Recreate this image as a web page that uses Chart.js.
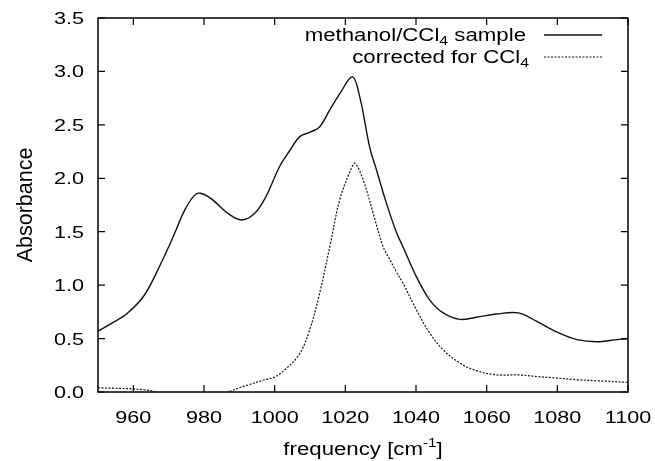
<!DOCTYPE html>
<html>
<head>
<meta charset="utf-8">
<script src="https://cdn.jsdelivr.net/npm/chart.js@4"></script>
<style>
html, body { margin: 0; padding: 0; background: #fff; }
canvas { display: block; }
</style>
</head>
<body>
<canvas id="chart" width="655" height="461"></canvas>
<script>
// frequency (cm-1) / absorbance
var sampleFreq = [950, 953.7, 958.4, 963.2, 967.9, 971.7, 974.5, 977.3, 979, 982, 986.8, 990.6, 994.3, 997.4,
    1001.4, 1004.3, 1007.1, 1009.9, 1012.7, 1015.6, 1018.4, 1022, 1024.1, 1026.9, 1028.8, 1031.6, 1034.5, 1036.3,
    1040.1, 1043.9, 1047.7, 1052.4, 1057.1, 1062.8, 1069, 1074.2, 1079.9, 1085.5, 1091.2, 1096.9, 1100];
var sampleAbs = [0.57, 0.64, 0.74, 0.91, 1.21, 1.485, 1.70, 1.84, 1.86, 1.81, 1.67, 1.61, 1.67, 1.82,
    2.11, 2.26, 2.39, 2.43, 2.48, 2.64, 2.79, 2.95, 2.76, 2.29, 2.08, 1.77, 1.49, 1.36,
    1.08, 0.86, 0.74, 0.68, 0.70, 0.73, 0.74, 0.66, 0.56, 0.49, 0.47, 0.49, 0.50];

var corrFreq = [950, 955, 959.4, 963, 965.4, 967, 975, 984, 986.8, 990, 992.9, 996.7, 1000, 1003.3, 1007.1, 1009.9,
    1012.7, 1015.6, 1018.4, 1021.3, 1022.7, 1025.1, 1027.9, 1030.7, 1032.6, 1034.5, 1036.3, 1040.1, 1043.9, 1047.7,
    1052.4, 1057.1, 1062.8, 1069, 1074.2, 1079.9, 1085.5, 1091.2, 1100];
var corrAbs = [0.04, 0.035, 0.03, 0.02, 0.01, -0.01, -0.05, -0.02, 0.0, 0.04, 0.07, 0.11, 0.14, 0.22, 0.36, 0.58,
    0.92, 1.36, 1.80, 2.06, 2.14, 1.98, 1.67, 1.36, 1.24, 1.12, 1.02, 0.77, 0.55, 0.395,
    0.27, 0.20, 0.16, 0.16, 0.145, 0.13, 0.115, 0.105, 0.09];

var xTicks = [960, 980, 1000, 1020, 1040, 1060, 1080, 1100];
var yTicks = [0, 0.5, 1.0, 1.5, 2.0, 2.5, 3.0, 3.5];

// legend text, with the subscript as its own piece
var legendParts = [
    [['methanol/CCl', 'n'], ['4', 'sub'], [' sample', 'n']],
    [['corrected for CCl', 'n'], ['4', 'sub']]
];

function toPoints(xs, ys) {
    return xs.map(function(x, i) { return {x: x, y: ys[i]}; });
}

var FONT = '"Liberation Sans", Arial, sans-serif';
var SX = 1.27; // lettering in the original is stretched sideways

// draws a row of text pieces [text, size, dy], stretched by SX
function wideText(ctx, parts, x, y, align) {
    var w = 0;
    parts.forEach(function(p) {
        ctx.font = p[1] + 'px ' + FONT;
        w += ctx.measureText(p[0]).width;
    });
    w *= SX;
    var start = align === 'right' ? x - w : (align === 'center' ? x - w / 2 : x);
    ctx.save();
    ctx.translate(start, y);
    ctx.scale(SX, 1);
    ctx.textAlign = 'left';
    ctx.textBaseline = 'alphabetic';
    var cx = 0;
    parts.forEach(function(p) {
        ctx.font = p[1] + 'px ' + FONT;
        ctx.fillText(p[0], cx, p[2]);
        cx += ctx.measureText(p[0]).width;
    });
    ctx.restore();
}

var framePlugin = {
    id: 'frame',
    afterDraw: function(chart) {
        var ctx = chart.ctx, a = chart.chartArea;
        var xs = chart.scales.x, ys = chart.scales.y;
        ctx.save();
        ctx.strokeStyle = '#000';
        ctx.fillStyle = '#000';
        ctx.lineWidth = 1.5;
        ctx.strokeRect(a.left, a.top, a.right - a.left, a.bottom - a.top);

        // inward tick marks on all four sides
        ctx.lineWidth = 1.2;
        ctx.beginPath();
        xTicks.forEach(function(v) {
            var px = xs.getPixelForValue(v);
            ctx.moveTo(px, a.bottom); ctx.lineTo(px, a.bottom - 7);
            ctx.moveTo(px, a.top); ctx.lineTo(px, a.top + 7);
        });
        yTicks.forEach(function(v) {
            var py = ys.getPixelForValue(v);
            ctx.moveTo(a.left, py); ctx.lineTo(a.left + 7, py);
            ctx.moveTo(a.right, py); ctx.lineTo(a.right - 7, py);
        });
        ctx.stroke();

        xTicks.forEach(function(v) {
            wideText(ctx, [[String(v), 17, 0]], xs.getPixelForValue(v), a.bottom + 31, 'center');
        });
        yTicks.forEach(function(v) {
            wideText(ctx, [[v.toFixed(1), 17, 0]], a.left - 14, ys.getPixelForValue(v) + 6, 'right');
        });

        // axis titles
        wideText(ctx, [['frequency [cm', 17.5, 0], ['-1', 12, -8], [']', 17.5, 0]],
            (a.left + a.right) / 2, 455, 'center');
        ctx.save();
        ctx.translate(31.5, (a.top + a.bottom) / 2);
        ctx.rotate(-Math.PI / 2);
        ctx.font = '21.5px ' + FONT;
        ctx.textAlign = 'center';
        ctx.textBaseline = 'alphabetic';
        ctx.fillText('Absorbance', 0, 0);
        ctx.restore();

        // key, top right inside the frame
        var rows = [{right: 526, base: 41}, {right: 529, base: 63}];
        legendParts.forEach(function(parts, i) {
            var pieces = parts.map(function(p) {
                return p[1] === 'sub' ? [p[0], 12.5, 4] : [p[0], 17.5, 0];
            });
            wideText(ctx, pieces, rows[i].right, rows[i].base, 'right');
            var ds = chart.data.datasets[i];
            ctx.save();
            ctx.lineWidth = ds.borderWidth;
            ctx.strokeStyle = ds.borderColor;
            ctx.setLineDash(ds.borderDash || []);
            ctx.beginPath();
            ctx.moveTo(544, rows[i].base - 6);
            ctx.lineTo(602, rows[i].base - 6);
            ctx.stroke();
            ctx.restore();
        });
        ctx.restore();
    }
};

var ctx = document.getElementById('chart').getContext('2d');
var myChart = new Chart(ctx, {
    type: 'line',
    data: {
        datasets: [{
            label: 'methanol/CCl4 sample',
            data: toPoints(sampleFreq, sampleAbs),
            borderColor: '#111',
            borderWidth: 1.4,
            pointRadius: 0,
            tension: 0.35,
            fill: false
        }, {
            label: 'corrected for CCl4',
            data: toPoints(corrFreq, corrAbs),
            borderColor: '#111',
            borderWidth: 1.2,
            borderDash: [2, 1.5],
            pointRadius: 0,
            tension: 0.35,
            fill: false
        }]
    },
    options: {
        responsive: false,
        animation: false,
        devicePixelRatio: 1,
        layout: { padding: { left: 98, right: 27, top: 18, bottom: 69 } },
        plugins: {
            legend: { display: false },
            tooltip: { enabled: false }
        },
        scales: {
            x: { type: 'linear', min: 950, max: 1100, display: false },
            y: { type: 'linear', min: 0, max: 3.5, display: false }
        }
    },
    plugins: [framePlugin]
});
</script>
</body>
</html>
